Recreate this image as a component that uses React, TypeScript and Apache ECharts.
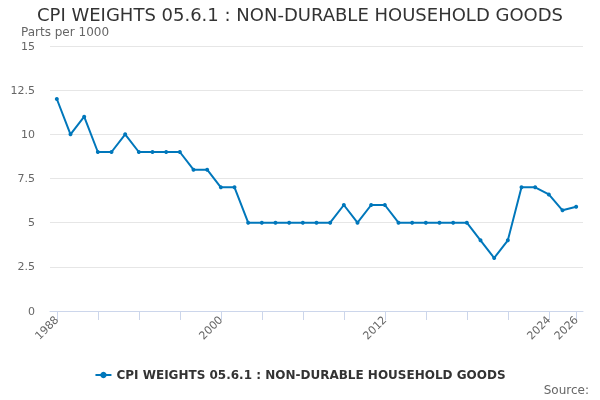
import { useEffect, useRef } from 'react';
import * as echarts from 'echarts';

const years = [
  '1988', '1989', '1990', '1991', '1992', '1993', '1994', '1995', '1996', '1997',
  '1998', '1999', '2000', '2001', '2002', '2003', '2004', '2005', '2006', '2007',
  '2008', '2009', '2010', '2011', '2012', '2013', '2014', '2015', '2016', '2017',
  '2018', '2019', '2020', '2021', '2022', '2023', '2024', '2025', '2026',
];

const weights = [
  12, 10, 11, 9, 9, 10, 9, 9, 9, 9,
  8, 8, 7, 7, 5, 5, 5, 5, 5, 5,
  5, 6, 5, 6, 6, 5, 5, 5, 5, 5,
  5, 4, 3, 4, 7, 7, 6.6, 5.7, 5.9,
];

const seriesName = 'CPI WEIGHTS 05.6.1 : NON-DURABLE HOUSEHOLD GOODS';
const font = '"DejaVu Sans", sans-serif';

export default function App() {
  const chartRef = useRef<HTMLDivElement>(null);

  useEffect(() => {
    if (!chartRef.current) return;
    const chart = echarts.init(chartRef.current, null, { renderer: 'svg' });
    const last = years.length - 1;

    chart.setOption({
      animation: false,
      textStyle: { fontFamily: font },
      title: [
        {
          text: seriesName,
          left: 'center',
          top: 5,
          padding: 0,
          textStyle: {
            fontSize: 18, lineHeight: 18, fontWeight: 'normal', color: '#333333', fontFamily: font,
          },
        },
        {
          text: 'Parts per 1000',
          left: 21,
          top: 26,
          padding: 0,
          textStyle: {
            fontSize: 12, lineHeight: 12, fontWeight: 'normal', color: '#666666', fontFamily: font,
          },
        },
        {
          text: 'Source:',
          right: 11,
          top: 384,
          padding: 0,
          textStyle: {
            fontSize: 12, lineHeight: 12, fontWeight: 'normal', color: '#666666', fontFamily: font,
          },
        },
      ],
      legend: {
        bottom: 14,
        left: 'center',
        itemWidth: 16,
        itemHeight: 8,
        textStyle: { fontSize: 12, fontWeight: 'bold', color: '#333333', fontFamily: font },
        data: [seriesName],
      },
      grid: { left: 50, right: 17, top: 46, bottom: 89 },
      xAxis: {
        type: 'category',
        data: years,
        boundaryGap: true,
        z: 5,
        axisLine: { show: true, onZero: false, lineStyle: { color: '#ccd6eb', width: 1 } },
        axisTick: {
          show: true,
          alignWithLabel: true,
          length: 9,
          lineStyle: { color: '#ccd6eb', width: 1 },
          interval: (i: number) => i % 3 === 0 || i === last,
        },
        axisLabel: {
          rotate: 45,
          color: '#666666',
          fontSize: 11,
          margin: 7,
          interval: (i: number) => i % 12 === 0 || i === last,
        },
      },
      yAxis: {
        type: 'value',
        min: 0,
        max: 15,
        interval: 2.5,
        axisLine: { show: false },
        axisTick: { show: false },
        axisLabel: { color: '#666666', fontSize: 11, margin: 15 },
        splitLine: { lineStyle: { color: '#e6e6e6' } },
      },
      series: [
        {
          name: seriesName,
          type: 'line',
          data: weights,
          symbol: 'circle',
          symbolSize: 4,
          lineStyle: { color: '#0077bb', width: 2 },
          itemStyle: { color: '#0077bb' },
        },
      ],
    });

    return () => {
      chart.dispose();
    };
  }, []);

  return (
    <div
      ref={chartRef}
      style={{ position: 'fixed', left: 0, top: 0, width: 600, height: 400 }}
    />
  );
}
